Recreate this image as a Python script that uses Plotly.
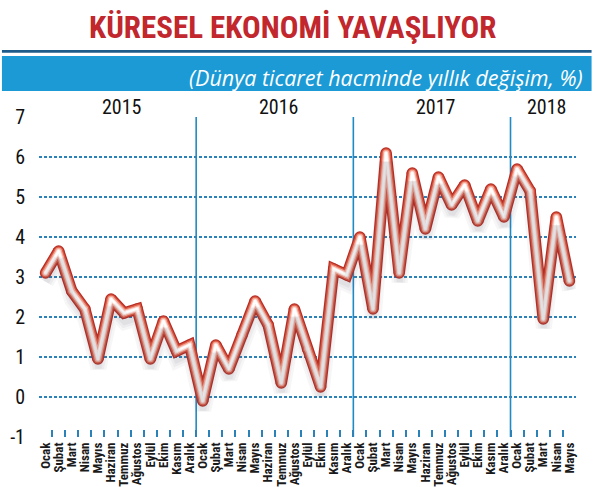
import plotly.graph_objects as go

# ---- data ----
month_names = ["Ocak", "Şubat", "Mart", "Nisan", "Mayıs", "Haziran",
               "Temmuz", "Ağustos", "Eylül", "Ekim", "Kasım", "Aralık"]
years = ["2015", "2016", "2017", "2018"]
months_per_year = [12, 12, 12, 5]

values_2015 = [3.1, 3.65, 2.65, 2.2, 0.95, 2.45, 2.1, 2.2, 0.95, 1.9, 1.15, 1.3]
values_2016 = [-0.1, 1.3, 0.7, 1.55, 2.4, 1.8, 0.35, 2.2, 1.2, 0.25, 3.2, 3.05]
values_2017 = [4.0, 2.2, 6.1, 3.1, 5.6, 4.2, 5.5, 4.8, 5.3, 4.4, 5.2, 4.5]
values_2018 = [5.7, 5.15, 1.95, 4.5, 2.9]

y_ticks = [-1, 0, 1, 2, 3, 4, 5, 6, 7]

title_text = "KÜRESEL EKONOMİ YAVAŞLIYOR"
subtitle_text = "(Dünya ticaret hacminde yıllık değişim, %)"

# ---- build ----
values = values_2015 + values_2016 + values_2017 + values_2018
labels = []
for n in months_per_year:
    labels += month_names[:n]
idx = list(range(len(values)))
n_total = len(values)

COND = "Roboto Condensed, Liberation Sans, sans-serif"
GRID = "#2b82b8"
SEP = "#1f8ac4"

fig = go.Figure()

# soft shadow (same data drawn through offset axes)
for col, w in [("rgba(80,80,100,0.05)", 16), ("rgba(80,80,100,0.06)", 11), ("rgba(80,80,100,0.07)", 6)]:
    fig.add_trace(go.Scatter(x=idx, y=values, mode="lines", xaxis="x3", yaxis="y3",
                             line=dict(color=col, width=w),
                             hoverinfo="skip", showlegend=False))

# main line layered: red border, salmon, pink, white core
for col, w in [("#b72d24", 11.5), ("#dd5a44", 9), ("#f3a898", 6.5), ("#fde6df", 4), ("#ffffff", 2.2)]:
    fig.add_trace(go.Scatter(x=idx, y=values, mode="lines+markers",
                             line=dict(color=col, width=w),
                             marker=dict(color=col, size=w, line=dict(width=0)),
                             hoverinfo="skip", showlegend=False))

# tick marks at month boundaries (overlay axis)
fig.add_trace(go.Scatter(x=[-0.5, n_total - 0.5], y=[None, None], xaxis="x2",
                         mode="lines", showlegend=False, hoverinfo="skip"))

xr = [-0.5, n_total - 0.5]
yr = [y_ticks[0], y_ticks[-1]]
shift_y = 9 / 40.0
shift_x = 0.5 / 13.1

# year separators and year labels
shapes = []
annotations = []
start = 0
for k, (yname, n) in enumerate(zip(years, months_per_year)):
    if k > 0:
        shapes.append(dict(type="line", xref="x", yref="y", x0=start - 0.5, x1=start - 0.5,
                           y0=yr[0], y1=yr[1], line=dict(color=SEP, width=1.6), layer="below"))
    annotations.append(dict(text=yname, xref="x", yref="paper", x=start + (n - 1) / 2 + 0.3,
                            y=1.03, showarrow=False, xanchor="center", yanchor="middle",
                            font=dict(family=COND, size=20, color="#111111")))
    start += n

# header decoration
shapes.append(dict(type="rect", xref="paper", yref="paper", x0=-0.069, x1=1.029,
                   y0=1.2005, y1=1.2095, fillcolor="#1d5b8a", line=dict(width=0), layer="above"))
shapes.append(dict(type="rect", xref="paper", yref="paper", x0=-0.069, x1=1.029,
                   y0=1.0815, y1=1.1905, fillcolor="#1b9ad6", line=dict(width=0), layer="above"))

annotations.append(dict(text="<b>" + title_text + "</b>", xref="paper", yref="paper",
                        x=0.472, y=1.28, xanchor="center", yanchor="middle", showarrow=False,
                        font=dict(family=COND, size=31, color="#c1272d")))
annotations.append(dict(text="<i>" + subtitle_text + "</i>", xref="paper", yref="paper",
                        x=1.017, y=1.125, xanchor="right", yanchor="middle", showarrow=False,
                        font=dict(family="Open Sans, Noto Sans, sans-serif", size=21.5, color="#ffffff")))

fig.update_layout(
    width=594, height=487,
    margin=dict(l=39, r=18, t=117, b=50),
    paper_bgcolor="white", plot_bgcolor="white",
    showlegend=False,
    shapes=shapes,
    annotations=annotations,
    xaxis=dict(range=xr, tickmode="array", tickvals=idx, ticktext=labels,
               tickangle=-90, ticks="", showgrid=False, zeroline=False, showline=False,
               tickfont=dict(family="Roboto Condensed", size=13, color="#1a1a1a", weight="bold"),
               ticklabelstandoff=2, fixedrange=True, automargin=False),
    xaxis2=dict(range=xr, overlaying="x", anchor="y", side="bottom",
                tickmode="array", tickvals=[i - 0.5 for i in range(n_total + 1)],
                ticks="inside", ticklen=7, tickwidth=1.5, tickcolor=GRID,
                showticklabels=False, showgrid=False, zeroline=False, showline=False,
                automargin=False),
    xaxis3=dict(range=[xr[0] - shift_x, xr[1] - shift_x], overlaying="x", anchor="y3",
                visible=False, automargin=False),
    yaxis=dict(range=yr, tickmode="array", tickvals=y_ticks, ticktext=[str(v) for v in y_ticks],
               showgrid=True, gridcolor=GRID, gridwidth=1.6, griddash="3px,2px",
               zeroline=False, showline=False, ticks="",
               tickfont=dict(family=COND, size=20, color="#111111"), ticklabelstandoff=13,
               automargin=False),
    yaxis3=dict(range=[yr[0] + shift_y, yr[1] + shift_y], overlaying="y", anchor="x3",
                visible=False, automargin=False),
)

fig.write_html("out.html")
